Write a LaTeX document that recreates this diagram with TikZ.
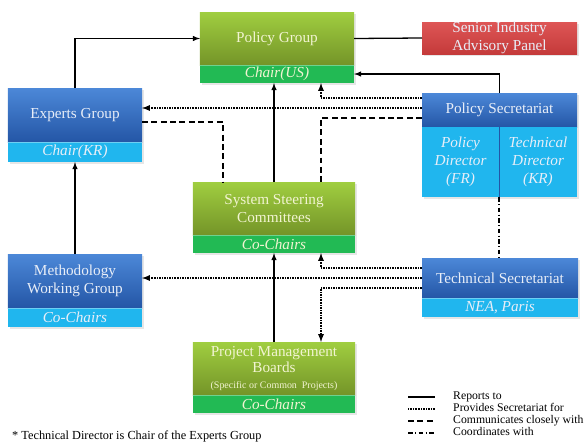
\documentclass[tikz,border=0pt]{standalone}
\usepackage{fontspec}
\setmainfont{Liberation Serif}
\newfontfamily\diagfont{Liberation Serif}
\usetikzlibrary{arrows,positioning,shadows}
\definecolor{grnTop}{RGB}{160,206,64}
\definecolor{grnBot}{RGB}{116,148,40}
\definecolor{grnBand}{RGB}{34,186,84}
\definecolor{bluTop}{RGB}{76,136,216}
\definecolor{bluBot}{RGB}{36,86,166}
\definecolor{cyBand}{RGB}{32,182,238}
\definecolor{redTop}{RGB}{222,86,86}
\definecolor{redBot}{RGB}{196,58,58}
\definecolor{paleTxt}{RGB}{242,244,210}
\definecolor{bluTxt}{RGB}{232,238,248}
\tikzstyle{box}=[rectangle,inner sep=0pt,outer sep=0pt,align=center,font=\diagfont\fontsize{13}{15}\selectfont,drop shadow={opacity=0.2,shadow xshift=0.5mm,shadow yshift=-0.5mm}]
\tikzstyle{ghead}=[box,top color=grnTop,bottom color=grnBot,text=paleTxt]
\tikzstyle{bhead}=[box,top color=bluTop,bottom color=bluBot,text=bluTxt]
\tikzstyle{rhead}=[box,top color=redTop,bottom color=redBot,text=bluTxt]
\tikzstyle{band}=[box,font=\diagfont\fontsize{13}{15}\selectfont\itshape,text=paleTxt,path picture={\draw[line width=2pt,white,opacity=0.35] (path picture bounding box.north west) -- (path picture bounding box.north east);}]
\tikzstyle{gband}=[band,fill=grnBand]
\tikzstyle{bband}=[band,fill=cyBand,text=bluTxt]
\tikzstyle{pscell}=[box,fill=cyBand,text=bluTxt,font=\diagfont\fontsize{13}{15.5}\selectfont\itshape,minimum height=2.1cm]
\tikzstyle{reportln}=[line width=1.1pt]
\tikzstyle{secln}=[line width=1.3pt,dash pattern=on 0.7pt off 0.7pt]
\tikzstyle{commln}=[line width=1.3pt,dash pattern=on 5pt off 3pt]
\tikzstyle{coordln}=[line width=1.3pt,dash pattern=on 4pt off 2pt on 1pt off 2pt]
\tikzstyle{legtxt}=[anchor=west,inner sep=0pt,text height=6.5pt,text depth=2pt,font=\diagfont\fontsize{10}{12}\selectfont]

\begin{document}
\begin{tikzpicture}[x=0.03cm,y=-0.03cm,>=latex]
\useasboundingbox (0,0) rectangle (586,446);

\node (pg) at (277,38.5) [ghead,minimum width=4.62cm,minimum height=1.59cm] {Policy Group};
\node (pgband) [gband,below=0pt of pg,minimum width=4.62cm,minimum height=0.54cm] {Chair(US)};

\node (siap) at (499.5,38) [rhead,minimum width=4.65cm,minimum height=0.96cm,font=\diagfont\fontsize{13}{15}\selectfont] {Senior Industry\\Advisory Panel};

\node (eg) at (75,115) [bhead,minimum width=4.02cm,minimum height=1.62cm] {Experts Group};
\node (egband) [bband,below=0pt of eg,minimum width=4.02cm,minimum height=0.6cm] {Chair(KR)};

\node (ps) at (499.5,110) [bhead,minimum width=4.65cm,minimum height=1.02cm] {Policy Secretariat};
\node (psl) at (ps.south west) [pscell,anchor=north west,minimum width=2.31cm] {Policy\\Director\\(FR)};
\node (psr) at (ps.south east) [pscell,anchor=north east,minimum width=2.34cm] {Technical\\Director\\(KR)};
\draw[bluBot,line width=0.8pt] (psl.north east) -- (psl.south east);

\node (ssc) at (274,208.5) [ghead,minimum width=4.86cm,minimum height=1.59cm] {System Steering\\Committees};
\node (sscband) [gband,below=0pt of ssc,minimum width=4.86cm,minimum height=0.54cm] {Co-Chairs};

\node (mwg) at (75,281) [bhead,minimum width=4.02cm,minimum height=1.62cm] {Methodology\\Working Group};
\node (mwgband) [bband,below=0pt of mwg,minimum width=4.02cm,minimum height=0.57cm] {Co-Chairs};

\node (ts) at (500,278) [bhead,minimum width=4.68cm,minimum height=1.2cm] {Technical Secretariat};
\node (tsband) [bband,below=0pt of ts,minimum width=4.68cm,minimum height=0.57cm] {NEA, Paris};

\node (pmb) at (274,368.5) [ghead,minimum width=4.86cm,minimum height=1.59cm] {Project Management\\[-1pt]Boards\\[-1pt]{\fontsize{8.5}{10}\selectfont (Specific or Common\ \ Projects)}};
\node (pmbband) [gband,below=0pt of pmb,minimum width=4.86cm,minimum height=0.54cm] {Co-Chairs};

\draw[reportln] (pg.east) -- (siap.west);
\draw[reportln,->] (eg.north) |- (pg.west);
\draw[reportln,->] (ps.north) |- (pgband.east);
\draw[reportln,->] (ssc.north) -- (ssc.north |- pgband.south);
\draw[reportln,->] (pmb.north) -- (sscband.south);
\draw[reportln,->] (mwg.north) -- (egband.south);

\draw[secln,->] ([yshift=0.36cm]ps.west) -| ([xshift=1.32cm]pgband.south);
\draw[secln,->] ([yshift=0.06cm]ps.west) -- ([yshift=0.06cm]ps.west -| eg.east);
\draw[commln] ([yshift=-0.24cm]ps.west) -| ([xshift=1.41cm]ssc.north);
\draw[commln] ([yshift=-0.21cm]eg.east) -| ([xshift=-1.53cm]ssc.north);

\draw[secln,->] ([yshift=0.3cm]ts.west) -| ([xshift=1.41cm]sscband.south);
\draw[secln,->] (ts.west) -- (ts.west -| mwg.east);
\draw[secln,->] ([yshift=-0.3cm]ts.west) -| ([xshift=1.41cm]pmb.north);

\draw[coordln] (psl.south east) -- (psl.south east |- ts.north);

\foreach \n/\yy/\ln/\txt in {1/397/reportln/Reports to,2/409/secln/Provides Secretariat for,3/421/commln/Communicates closely with,4/433/coordln/Coordinates with}{
  \coordinate (la\n) at (408,\yy);
  \coordinate (lb\n) at (435,\yy);
  \draw[\ln] (la\n) -- (lb\n);
  \node (lt\n) at (453,\yy) [legtxt] {\txt};
}

\node (note) at (12,437) [legtxt,font=\diagfont\fontsize{10.5}{12}\selectfont] {* Technical Director is Chair of the Experts Group};
\end{tikzpicture}
\end{document}
